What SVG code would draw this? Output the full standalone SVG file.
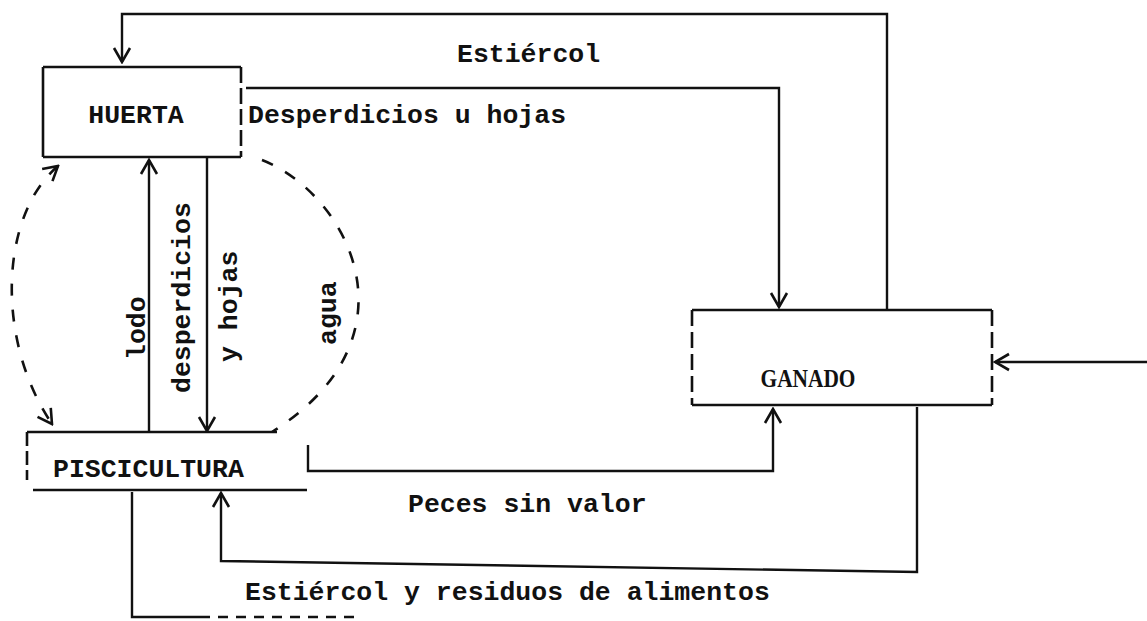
<svg xmlns="http://www.w3.org/2000/svg" width="1147" height="621" viewBox="0 0 1147 621">
<defs>
<style>
.box{fill:none;stroke:#111;stroke-width:2.6}
.ln{fill:none;stroke:#111;stroke-width:2.4}
.dash{fill:none;stroke:#111;stroke-width:2.6;stroke-dasharray:12 14}
.t{font-family:"Liberation Mono","Courier New",monospace;font-size:26.5px;font-weight:bold;fill:#111}
.g{font-family:"Liberation Serif","Times New Roman",serif;font-size:25px;font-weight:bold;fill:#111}
</style>
<marker id="v" markerUnits="userSpaceOnUse" viewBox="-16 -10 18 20" refX="0" refY="0" markerWidth="18" markerHeight="20" orient="auto-start-reverse"><path d="M-14,-8 L0,0 L-14,8" fill="none" stroke="#111" stroke-width="2.6"/></marker>
</defs>
<rect width="1147" height="621" fill="#fff"/>
<g id="huerta">
<path class="box" d="M43,67 H241 M43,157 H241 M43,67 V157"/>
<path class="box" d="M241,67 V157" stroke-dasharray="16 5"/>
<text class="t" x="136" y="123" text-anchor="middle">HUERTA</text>
</g>
<g id="ganado">
<path class="box" d="M692,310 H992 M692,405 H992"/>
<path class="box" d="M692,310 V405 M992,310 V405" stroke-dasharray="16 6"/>
<text class="g" x="808" y="387" text-anchor="middle" textLength="95" lengthAdjust="spacingAndGlyphs">GANADO</text>
</g>
<g id="piscicultura">
<path class="box" d="M27,432 H277 M33,490 H307"/>
<path class="box" d="M27,432 V480" stroke-dasharray="14 5"/>
<text class="t" x="53" y="477">PISCICULTURA</text>
</g>
<g id="connectors">
<path class="ln" d="M887,310 V14 H122 V62" marker-end="url(#v)"/>
<path class="ln" d="M246,88 H779 V307" marker-end="url(#v)"/>
<path class="ln" d="M149,432 V160" marker-end="url(#v)"/>
<path class="ln" d="M207,158 V431" marker-end="url(#v)"/>
<path class="ln" d="M308,445 V471 H773 V409" marker-end="url(#v)"/>
<path class="ln" d="M917,407 V572 L221,561 V493" marker-end="url(#v)"/>
<path class="ln" d="M1147,362 H995" marker-end="url(#v)"/>
<path class="ln" d="M132,492 V617 H200"/>
<path class="ln" d="M200,617 H360" stroke-dasharray="10 8" stroke-width="1.6"/>
<path class="dash" d="M58,166 C0,215 -5,340 52,424" marker-start="url(#v)" marker-end="url(#v)"/>
<path class="dash" d="M262,160 C345,192 425,335 272,432"/>
<text class="t" x="457" y="62">Estiércol</text>
<text class="t" x="248" y="123">Desperdicios u hojas</text>
<text class="t" x="408" y="512">Peces sin valor</text>
<text class="t" x="245" y="600">Estiércol y residuos de alimentos</text>
<text class="t" transform="translate(145,360) rotate(-90)">lodo</text>
<text class="t" transform="translate(190,393) rotate(-90)">desperdicios</text>
<text class="t" transform="translate(237,362) rotate(-90)">y hojas</text>
<text class="t" transform="translate(336,345) rotate(-90)">agua</text>
</g>
</svg>
